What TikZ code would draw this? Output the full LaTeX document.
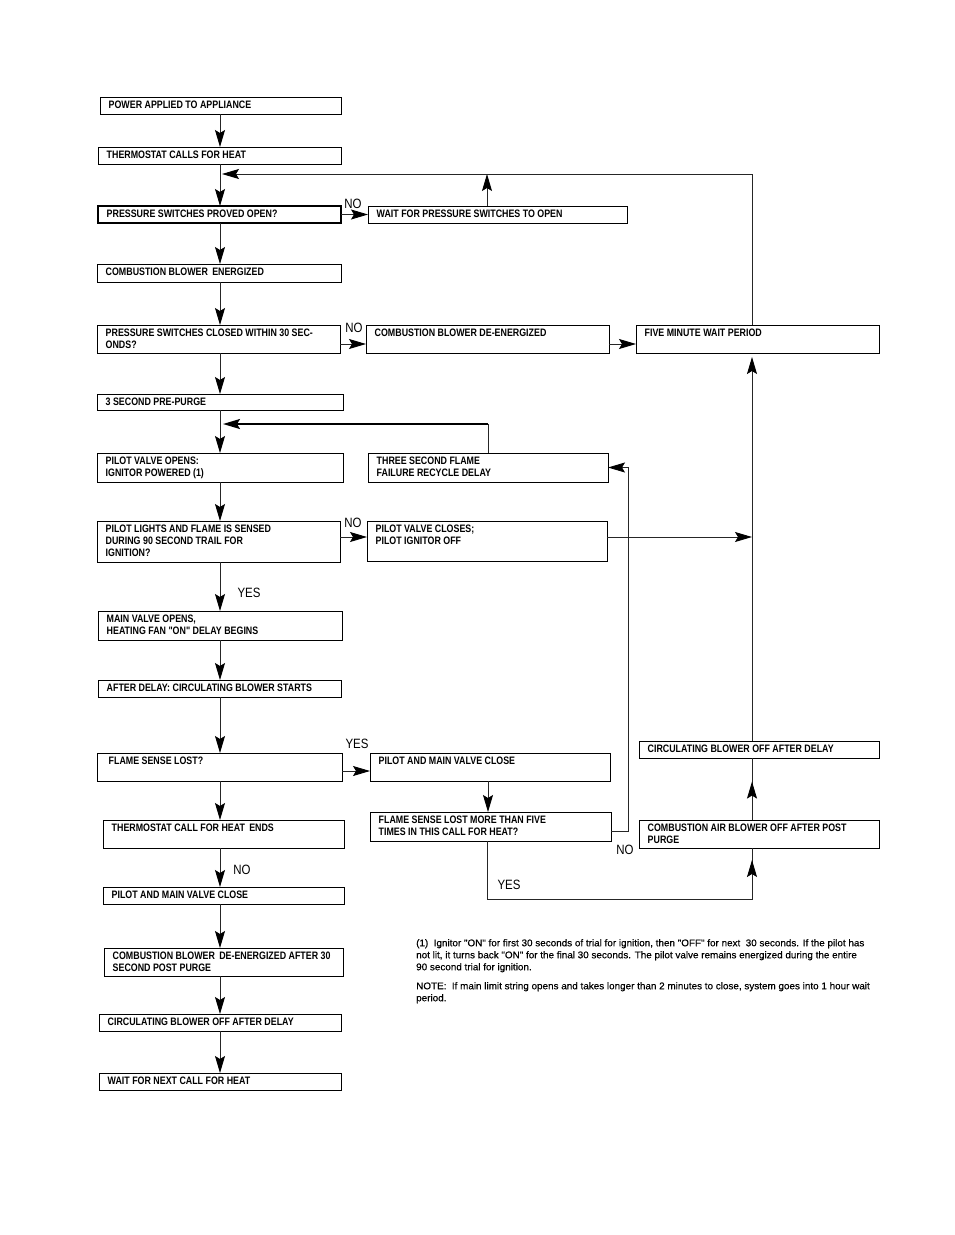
\documentclass[tikz,border=0pt]{standalone}
\usepackage{fontspec}
\setmainfont{Liberation Sans}
\newfontfamily\narb[FakeStretch=0.82]{Liberation Sans Bold}
\newfontfamily\narl[FakeStretch=0.85]{Liberation Sans}
\newfontfamily\notef[FakeStretch=1.02,FakeBold=0.4]{Liberation Sans}
\usetikzlibrary{arrows.meta,decorations.markings}
\newcommand\bxn[7][]{%
  \node[bx,#1,anchor=north west,minimum width=#5pt-#3pt,minimum height=#6pt-#4pt] (#2) at (#3,#4) {};
  \node[tx] (#2t) at ([xshift=8.5pt,yshift=-4pt]#2.north west) {#7};}
\begin{document}
\begin{tikzpicture}[x=1pt,y=-1pt,
  bx/.style={draw,line width=0.95pt,inner sep=0pt,outer sep=0pt},
  tx/.style={font=\narb\fontsize{10.8}{12}\selectfont,align=left,inner sep=0pt,anchor=north west},
  lab/.style={font=\narl\fontsize{13.5}{14}\selectfont,inner sep=0pt},
  note/.style={font=\notef\fontsize{9.7}{12}\selectfont,align=left,inner sep=0pt,anchor=north west},
  ln/.style={line width=0.9pt,black!85},
  tipst/.style={-{Stealth[length=17pt,width=10pt,inset=3pt,black]}},
  arr/.style={ln,tipst},
  midarr/.style={postaction={decorate,decoration={markings,
     mark=at position #1 with {\arrow{Stealth[length=17pt,width=10pt,inset=3pt,black]}}}}}
]
\useasboundingbox[fill=white] (0,0) rectangle (954,1235);
\coordinate (mx) at (220,0);
\coordinate (rx) at (752,0);
% boxes
\bxn{b1}{100}{97}{341}{114}{POWER APPLIED TO APPLIANCE}
\bxn{b2}{98}{147}{341}{164}{THERMOSTAT CALLS FOR HEAT}
\bxn[line width=2.4pt]{b3}{98}{206}{341}{223}{PRESSURE SWITCHES PROVED OPEN?}
\bxn{b4}{368}{206}{627}{223}{WAIT FOR PRESSURE SWITCHES TO OPEN}
\bxn{b5}{97}{264}{341}{282}{COMBUSTION BLOWER\, ENERGIZED}
\bxn{b6}{97}{325}{340}{353}{PRESSURE SWITCHES CLOSED WITHIN 30 SEC-\\ONDS?}
\bxn{b7}{366}{325}{609}{353}{COMBUSTION BLOWER DE-ENERGIZED}
\bxn{b8}{636}{325}{879}{353}{FIVE MINUTE WAIT PERIOD}
\bxn{b9}{97}{394}{343}{410}{3 SECOND PRE-PURGE}
\bxn{b10}{97}{453}{343}{482}{PILOT VALVE OPENS:\\IGNITOR POWERED (1)}
\bxn{b11}{368}{453}{608}{482}{THREE SECOND FLAME\\FAILURE RECYCLE DELAY}
\bxn{b12}{97}{521}{340}{562}{PILOT LIGHTS AND FLAME IS SENSED\\DURING 90 SECOND TRAIL FOR\\IGNITION?}
\bxn{b13}{367}{521}{607}{561}{PILOT VALVE CLOSES;\\PILOT IGNITOR OFF}
\bxn{b14}{98}{611}{342}{640}{MAIN VALVE OPENS,\\HEATING FAN "ON" DELAY BEGINS}
\bxn{b15}{98}{680}{341}{697}{AFTER DELAY: CIRCULATING BLOWER STARTS}
\bxn{b16}{97}{753}{342}{781}{\hspace*{3pt}FLAME SENSE LOST?}
\bxn{b17}{370}{753}{610}{781}{PILOT AND MAIN VALVE CLOSE}
\bxn{b18}{639}{741}{879}{758}{CIRCULATING BLOWER OFF AFTER DELAY}
\bxn{b19}{370}{812}{611}{841}{FLAME SENSE LOST MORE THAN FIVE\\TIMES IN THIS CALL FOR HEAT?}
\bxn{b20}{639}{820}{879}{848}{COMBUSTION AIR BLOWER OFF AFTER POST\\PURGE}
\bxn{b21}{103}{820}{344}{848}{THERMOSTAT CALL FOR HEAT\, ENDS}
\bxn{b22}{103}{887}{344}{904}{PILOT AND MAIN VALVE CLOSE}
\bxn{b23}{104}{948}{343}{976}{COMBUSTION BLOWER\, DE-ENERGIZED AFTER 30\\SECOND POST PURGE}
\bxn{b24}{99}{1014}{341}{1031}{CIRCULATING BLOWER OFF AFTER DELAY}
\bxn{b25}{99}{1073}{341}{1090}{WAIT FOR NEXT CALL FOR HEAT}
% junction coordinates
\coordinate (j1) at (487,174);
\coordinate (j2) at (488,424);
\coordinate (c1) at (487,899);
\coordinate (c2) at (628,831);
% main column
\draw[arr] (b1.south -| mx) -- (b2.north -| mx);
\draw[arr] (b2.south -| mx) -- (b3.north -| mx);
\draw[arr] (b3.south -| mx) -- (b5.north -| mx);
\draw[arr] (b5.south -| mx) -- (b6.north -| mx);
\draw[arr] (b6.south -| mx) -- (b9.north -| mx);
\draw[arr] (b9.south -| mx) -- (b10.north -| mx);
\draw[arr] (b10.south -| mx) -- (b12.north -| mx);
\draw[arr] (b12.south -| mx) -- (b14.north -| mx);
\draw[arr] (b14.south -| mx) -- (b15.north -| mx);
\draw[arr] (b15.south -| mx) -- (b16.north -| mx);
\draw[arr] (b16.south -| mx) -- (b21.north -| mx);
\draw[arr] (b21.south -| mx) -- (b22.north -| mx);
\draw[arr] (b22.south -| mx) -- (b23.north -| mx);
\draw[arr] (b23.south -| mx) -- (b24.north -| mx);
\draw[arr] (b24.south -| mx) -- (b25.north -| mx);
% branches
\draw[arr] (b3.east) -- (b4.west);
\draw[arr] (b4.north -| j1) -- (j1);
\draw[arr] (b8.north -| rx) -- (rx |- j1) -- ([xshift=2pt]mx |- j1);
\draw[arr] (b6.east |- 0,344) -- (b7.west |- 0,344);
\draw[arr] (b7.east |- 0,344) -- (b8.west |- 0,344);
\draw[ln] (b11.north -| j2) -- (j2);
\draw[line width=1.8pt,tipst] (j2) -- ([xshift=3pt]mx |- j2);
\draw[arr] (b12.east |- 0,537) -- (b13.west |- 0,537);
\draw[arr] (b13.east |- 0,537) -- (rx |- 0,537);
\draw[arr] (b18.north -| rx) -- ([yshift=-4pt]b8.south -| rx);
\draw[ln,midarr=0.62] (b20.north -| rx) -- (b18.south -| rx);
\draw[arr] (b16.east |- 0,771) -- (b17.west |- 0,771);
\draw[arr] (b17.south -| j2) -- (b19.north -| j2);
\draw[arr] (b19.east |- c2) -- (c2) -- (c2 |- b11.east) -- (b11.east);
\draw[ln,midarr=-12pt] (b19.south -| c1) -- (c1) -- (rx |- c1) -- (b20.south -| rx);
% labels
\node[lab] (l1) at (353,204) {NO};
\node[lab] (l2) at (354,328) {NO};
\node[lab] (l3) at (353,523) {NO};
\node[lab] (l4) at (249,593) {YES};
\node[lab] (l5) at (357,744) {YES};
\node[lab] (l6) at (625,850) {NO};
\node[lab] (l7) at (509,885) {YES};
\node[lab] (l8) at (242,870) {NO};
% notes
\node[note] (n1) at (416,939) {(1)\; Ignitor "ON" for first 30 seconds of trial for ignition, then "OFF" for next\; 30 seconds. If the pilot has\\not lit, it turns back "ON" for the final 30 seconds. The pilot valve remains energized during the entire\\90 second trial for ignition.};
\node[note] (n2) at (416,982) {NOTE:\; If main limit string opens and takes longer than 2 minutes to close, system goes into 1 hour wait\\period.};
\end{tikzpicture}
\end{document}
